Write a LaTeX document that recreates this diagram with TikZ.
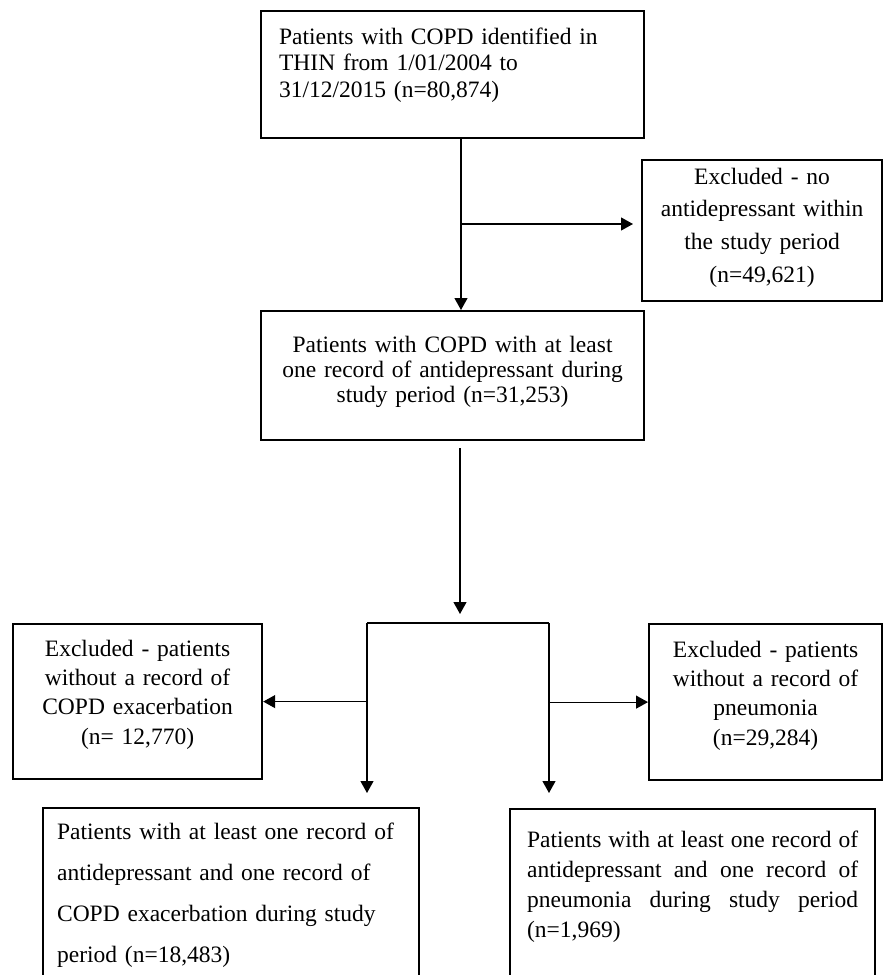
\documentclass[tikz,border=0pt]{standalone}
\usepackage{fontspec}
\setmainfont{Liberation Serif}
\usetikzlibrary{arrows.meta, positioning, calc}

\begin{document}
\begin{tikzpicture}[
  x=1pt, y=-1pt,
  stage/.style={draw, line width=2.2pt, inner ysep=0pt, inner xsep=8pt, anchor=north west, align=center},
  flow/.style={line width=1.2pt, -{Triangle[length=12pt, width=13pt]}}
]
  \useasboundingbox (0,0) rectangle (883,975);

  \node[stage, align=left, inner xsep=18pt, text width=347pt, text height=33pt, text depth=94pt,
        font=\fontsize{23.5}{26.5}\selectfont] (copd) at (260, 10) {
    Patients with COPD identified in\\
    THIN from 1/01/2004 to\\
    31/12/2015 (n=80,874)
  };
  \node[stage, inner xsep=10pt, text width=363pt, text height=41pt, text depth=88pt,
        font=\fontsize{23.5}{25}\selectfont] (withad) at (260, 310) {
    Patients with COPD with at least\\
    one record of antidepressant during\\
    study period (n=31,253)
  };
  \node[stage, text width=224pt, text height=24pt, text depth=117pt,
        font=\fontsize{23.5}{32.7}\selectfont] (noad) at (641, 159) {
    Excluded - no\\
    antidepressant within\\
    the study period\\
    (n=49,621)
  };
  \node[stage, text width=233pt, text height=32pt, text depth=123pt,
        font=\fontsize{23.5}{29.3}\selectfont] (noexac) at (12, 623) {
    Excluded - patients\\
    without a record of\\
    COPD exacerbation\\
    (n= 12,770)
  };
  \node[stage, text width=217pt, text height=33pt, text depth=123pt,
        font=\fontsize{23.5}{29.4}\selectfont] (nopneu) at (648, 623) {
    Excluded - patients\\
    without a record of\\
    pneumonia\\
    (n=29,284)
  };
  \node[stage, align=left, inner xsep=14pt, text width=348pt, text height=31pt, text depth=162pt,
        font=\fontsize{23.5}{41}\selectfont] (withexac) at (42, 807) {
    Patients with at least one record of\\
    antidepressant and one record of\\
    COPD exacerbation during study\\
    period (n=18,483)
  };
  \node[stage, align=justify, inner xsep=17pt, text width=331pt, text height=38pt, text depth=162pt,
        font=\fontsize{23.5}{30}\selectfont] (withpneu) at (509, 808) {
    Patients with at least one record of\linebreak
    antidepressant and one record of\linebreak
    pneumonia during study period\linebreak
    (n=1,969)
  };

  % top part
  \coordinate (split) at (461, 224);
  \draw[flow] (copd.south -| split) -- (withad.north -| split);
  \draw[flow, shorten >=8pt] (split) -- (split -| noad.west);

  % lower split
  \coordinate (mid) at (460, 623);
  \coordinate (barl) at (367, 623);
  \coordinate (barr) at (549, 623);
  \draw[flow] ($(withad.south -| mid) + (0,7)$) -- ($(mid) + (0,-9)$);
  \draw[line width=1.2pt] (barl) -- (barr);
  \draw[flow] (barl) -- ($(withexac.north -| barl) + (0,-14)$);
  \draw[flow] (barr) -- ($(withpneu.north -| barr) + (0,-15)$);
  \draw[flow] (noexac.east -| barl) -- (noexac.east);
  \draw[flow] (nopneu.west -| barr) -- (nopneu.west);
\end{tikzpicture}
\end{document}
